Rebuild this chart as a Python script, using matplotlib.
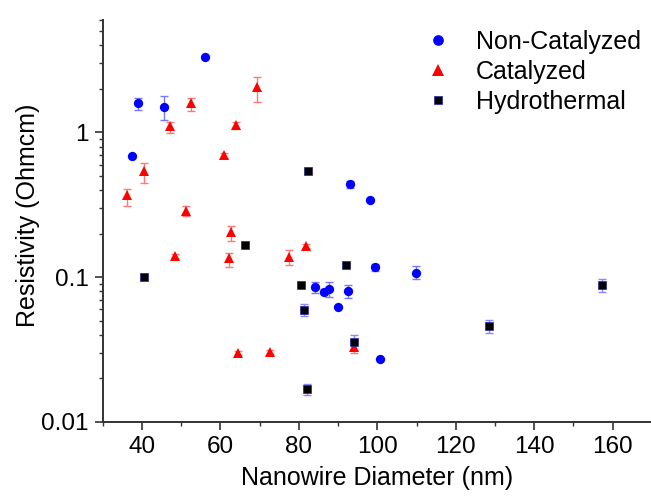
import matplotlib
matplotlib.use("Agg")
import matplotlib.pyplot as plt
import matplotlib.ticker as mticker
import numpy as np

plt.rcParams['font.family'] = ['Liberation Sans', 'DejaVu Sans']

# Non-Catalyzed
nc_x = [37.5, 38.9, 45.6, 56.1, 84.2, 86.5, 87.6, 90.0, 92.5, 93.1, 98.2, 99.5, 100.8, 109.9]
nc_y = [0.686, 1.59, 1.49, 3.33, 0.0849, 0.0792, 0.0826, 0.0618, 0.080, 0.439, 0.340, 0.117, 0.027, 0.107]
nc_lo = [0, 0.15, 0.27, 0, 0.0074, 0.003, 0.010, 0, 0.0085, 0.025, 0, 0.006, 0, 0.0097]
nc_hi = [0, 0.13, 0.29, 0, 0.0077, 0.003, 0.010, 0, 0.0076, 0.025, 0, 0.006, 0, 0.012]

# Catalyzed
c_x = [36.2, 40.4, 47.0, 48.5, 51.2, 52.4, 61.0, 62.1, 62.8, 64.0, 64.5, 69.4, 72.6, 77.5, 81.8, 94.0]
c_y = [0.369, 0.543, 1.105, 0.140, 0.287, 1.59, 0.697, 0.135, 0.206, 1.12, 0.030, 2.07, 0.0305, 0.138, 0.164, 0.033]
c_lo = [0.059, 0.094, 0.115, 0.004, 0.024, 0.19, 0.03, 0.017, 0.028, 0.07, 0.001, 0.44, 0.001, 0.017, 0.006, 0.003]
c_hi = [0.039, 0.077, 0.085, 0.004, 0.024, 0.13, 0.03, 0.012, 0.019, 0.07, 0.001, 0.33, 0.001, 0.017, 0.006, 0.003]

# Hydrothermal
h_x = [40.4, 66.3, 80.5, 81.4, 82.0, 82.3, 92.0, 94.0, 128.4, 157.4]
h_y = [0.101, 0.166, 0.0885, 0.0591, 0.0168, 0.540, 0.121, 0.0354, 0.0459, 0.0881]
h_lo = [0.004, 0.005, 0.003, 0.0052, 0.0015, 0.015, 0.004, 0.0040, 0.0045, 0.0089]
h_hi = [0.004, 0.005, 0.003, 0.0058, 0.0015, 0.015, 0.004, 0.0044, 0.0045, 0.0084]

fig = plt.figure(figsize=(6.51, 4.98), dpi=100)
ax = fig.add_axes([0.158, 0.153, 0.842, 0.807])

ekw = dict(fmt='none', capsize=3, elinewidth=1, capthick=1, zorder=2)
ax.errorbar(nc_x, nc_y, yerr=[nc_lo, nc_hi], ecolor='#7777ff', **ekw)
ax.errorbar(c_x, c_y, yerr=[c_lo, c_hi], ecolor='#ff7777', **ekw)
ax.errorbar(h_x, h_y, yerr=[h_lo, h_hi], ecolor='#8888ff', **ekw)

ax.plot(nc_x, nc_y, 'o', color='#0000ff', markersize=6.7, markeredgewidth=0,
        label='Non-Catalyzed', zorder=3)
ax.plot(c_x, c_y, '^', color='#ff0000', markersize=7.5, markeredgewidth=0,
        label='Catalyzed', zorder=3)
ax.plot(h_x, h_y, 's', color='#000000', markersize=5.6, markeredgecolor='#2222aa',
        markeredgewidth=0.5, label='Hydrothermal', zorder=4)

ax.set_yscale('log')
ax.set_xlim(30, 169.8)
ax.set_ylim(0.01, 6)

ax.xaxis.set_major_locator(mticker.MultipleLocator(20))
ax.xaxis.set_minor_locator(mticker.MultipleLocator(10))
ax.yaxis.set_major_locator(mticker.LogLocator(base=10))
ax.yaxis.set_minor_locator(mticker.LogLocator(base=10, subs=np.arange(2, 10)))
ax.yaxis.set_minor_formatter(mticker.NullFormatter())
ax.yaxis.set_major_formatter(mticker.FuncFormatter(lambda v, p: '{:g}'.format(v)))

for s in ['top', 'right']:
    ax.spines[s].set_visible(False)
for s in ['left', 'bottom']:
    ax.spines[s].set_linewidth(1.4)
    ax.spines[s].set_color('#333333')

ax.tick_params(which='major', direction='out', length=5.5, width=1.2, color='#333333',
               labelsize=17.5, pad=4.5)
ax.tick_params(which='minor', direction='out', length=3, width=1.0, color='#333333')

ax.set_xlabel('Nanowire Diameter (nm)', fontsize=18, labelpad=6)
ax.set_ylabel('Resistivity (Ohmcm)', fontsize=18, labelpad=3)
ax.yaxis.set_label_coords(-0.115, 0.515)

leg = ax.legend(loc='upper right', frameon=False, fontsize=18, handletextpad=0.9,
                borderaxespad=0.2, labelspacing=0.24, handlelength=1.2,
                markerscale=1.15, bbox_to_anchor=(1.009, 1.012))

fig.savefig('out.png', dpi=100)
